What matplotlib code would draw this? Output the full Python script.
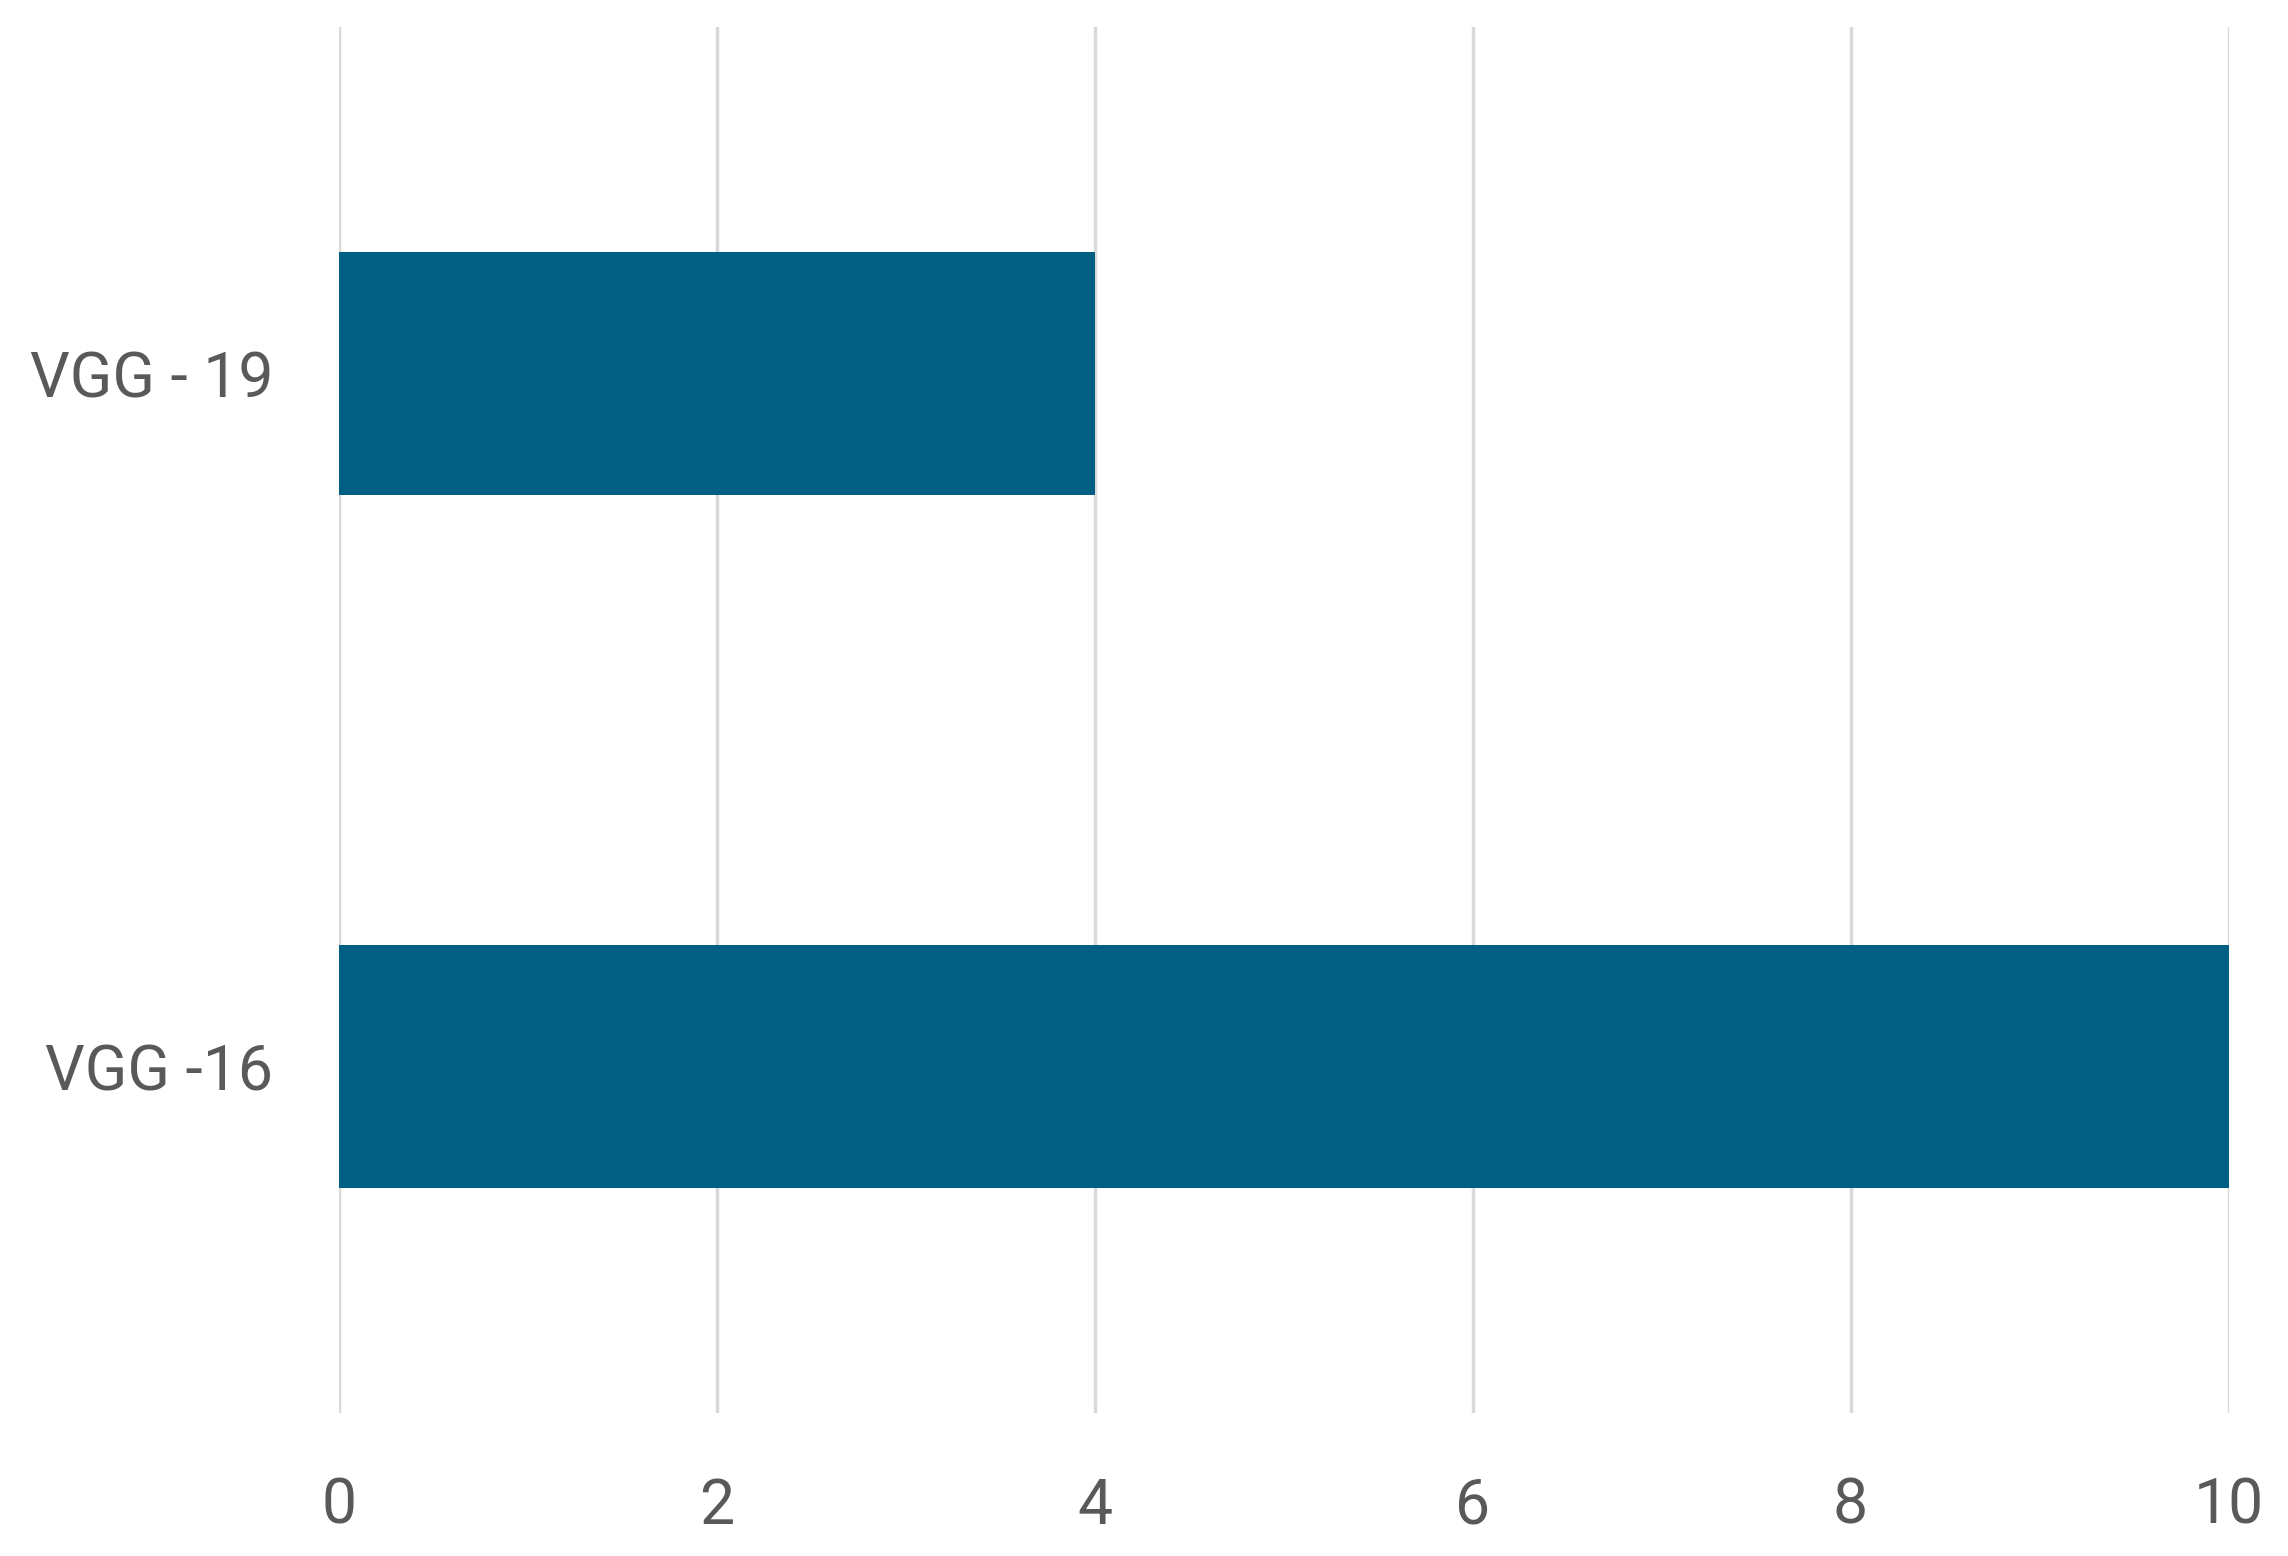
import matplotlib
matplotlib.use('Agg')
import matplotlib.pyplot as plt

# datos
labels = ['VGG -16', 'VGG - 19']
values = [10, 4]
xticks = [0, 2, 4, 6, 8, 10]

plt.rcParams['font.family'] = ['Roboto', 'DejaVu Sans']

fig = plt.figure(figsize=(22.88, 15.56), dpi=100)
ax = fig.add_axes([0.148, 0.0919, 0.826, 0.8907])

ax.barh(range(len(labels)), values, height=0.35, color='#005F83', zorder=3)
ax.set_yticks(range(len(labels)))
ax.set_yticklabels(labels)
ax.set_ylim(-0.5, 1.5)
ax.set_xlim(0, 10)
ax.set_xticks(xticks)

ax.grid(axis='x', color='#D9D9D9', linewidth=2.5, zorder=0)
for s in ax.spines.values():
  s.set_visible(False)
ax.tick_params(axis='both', length=0, labelsize=45, labelcolor='#595959')
ax.tick_params(axis='x', pad=46)
ax.tick_params(axis='y', pad=47)

fig.savefig('out.png', dpi=100)
plt.close()
